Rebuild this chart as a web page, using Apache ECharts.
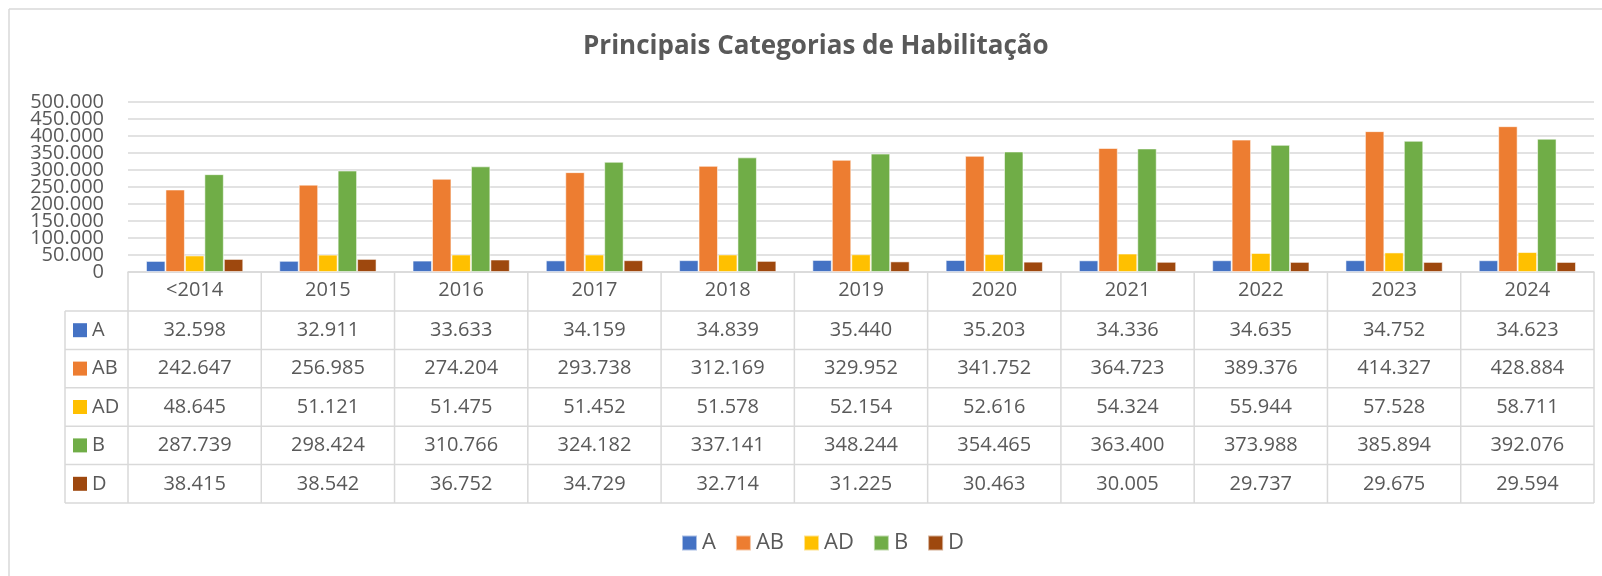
<!DOCTYPE html>
<html>
<head>
<meta charset="utf-8">
<script src="https://cdn.jsdelivr.net/npm/echarts@6/dist/echarts.min.js"></script>
<style>
  html, body { margin: 0; padding: 0; background: #fff; }
  #chart { width: 1602px; height: 576px; }
</style>
</head>
<body>
<div id="chart"></div>
<script>
const categories = ['<2014', '2015', '2016', '2017', '2018', '2019', '2020', '2021', '2022', '2023', '2024'];
const seriesNames = ['A', 'AB', 'AD', 'B', 'D'];
const colors = ['#4472C4', '#ED7D31', '#FFC000', '#70AD47', '#9E480E'];

const valuesA = [32598, 32911, 33633, 34159, 34839, 35440, 35203, 34336, 34635, 34752, 34623];
const valuesAB = [242647, 256985, 274204, 293738, 312169, 329952, 341752, 364723, 389376, 414327, 428884];
const valuesAD = [48645, 51121, 51475, 51452, 51578, 52154, 52616, 54324, 55944, 57528, 58711];
const valuesB = [287739, 298424, 310766, 324182, 337141, 348244, 354465, 363400, 373988, 385894, 392076];
const valuesD = [38415, 38542, 36752, 34729, 32714, 31225, 30463, 30005, 29737, 29675, 29594];
const allValues = [valuesA, valuesAB, valuesAD, valuesB, valuesD];

// rótulos do eixo y, divididos em dois eixos para o ECharts não esconder os que se sobrepõem
const yTicksEven = [0, 100000, 200000, 300000, 400000, 500000];
const yTicksOdd = [50000, 150000, 250000, 350000, 450000];

const FONT = '"Open Sans", "Noto Sans", sans-serif';
const TEXT = '#595959';
const LINE = '#d9d9d9';

// formato pt-BR: separador de milhar com ponto
const fmt = (v) => String(v).replace(/\B(?=(\d{3})+(?!\d))/g, '.');

const chart = echarts.init(document.getElementById('chart'));

const yLabel = (ticks) => ({
  fontFamily: FONT, fontSize: 20, color: TEXT, margin: 24,
  customValues: ticks, hideOverlap: false,
  formatter: (v) => fmt(v),
});

const option = {
  animation: false,
  backgroundColor: '#fff',
  title: {
    text: 'Principais Categorias de Habilitação',
    left: 583,
    top: 34,
    padding: 0,
    textStyle: { fontFamily: FONT, fontSize: 26, fontWeight: 'bold', color: TEXT },
  },
  legend: {
    left: 681,
    top: 532,
    padding: 0,
    icon: 'rect',
    itemWidth: 15,
    itemHeight: 15,
    itemGap: 19,
    textStyle: { fontFamily: FONT, fontSize: 22, color: TEXT },
    data: seriesNames,
  },
  grid: { left: 128, right: 8, top: 102, bottom: 304, containLabel: false },
  xAxis: {
    type: 'category',
    data: categories,
    axisLine: { lineStyle: { color: LINE, width: 1.5 } },
    axisTick: { show: false },
    axisLabel: { fontFamily: FONT, fontSize: 20, color: TEXT, margin: 8 },
  },
  yAxis: [
    {
      type: 'value',
      min: 0,
      max: 500000,
      interval: 50000,
      axisLine: { show: false },
      axisTick: { show: false },
      splitLine: { lineStyle: { color: LINE, width: 1.5 } },
      axisLabel: yLabel(yTicksEven),
    },
    {
      type: 'value',
      position: 'left',
      min: 0,
      max: 500000,
      interval: 50000,
      axisLine: { show: false },
      axisTick: { show: false },
      splitLine: { show: false },
      axisLabel: yLabel(yTicksOdd),
    },
  ],
  series: seriesNames.map((name, i) => ({
    name,
    type: 'bar',
    yAxisIndex: 0,
    data: allValues[i],
    barGap: '0%',
    barCategoryGap: '27%',
    itemStyle: { color: colors[i], borderColor: 'rgba(255,255,255,0.55)', borderWidth: 1 },
  })),
};

chart.setOption(option);

// tabela de dados abaixo do gráfico, alinhada às colunas do eixo x
const rowTop = 311;
const rowH = 38.4;
const legendColLeft = 65;
const axisY = chart.convertToPixel({ yAxisIndex: 0 }, 0);
const centers = categories.map((c, i) => chart.convertToPixel({ xAxisIndex: 0 }, i));
const colW = centers.length > 1 ? centers[1] - centers[0] : 133;
const tableLeft = centers[0] - colW / 2;
const tableRight = centers[centers.length - 1] + colW / 2;
const tableBottom = rowTop + rowH * seriesNames.length;

const graphics = [];
const lineStyle = { stroke: LINE, lineWidth: 1.5 };

// moldura externa (topo e esquerda)
graphics.push({ type: 'line', shape: { x1: 9, y1: 9, x2: 1602, y2: 9 }, style: lineStyle, silent: true });
graphics.push({ type: 'line', shape: { x1: 9, y1: 9, x2: 9, y2: 576 }, style: lineStyle, silent: true });

// linhas verticais das colunas
for (let k = 0; k <= categories.length; k++) {
  const x = tableLeft + k * colW;
  graphics.push({ type: 'line', shape: { x1: x, y1: axisY, x2: x, y2: tableBottom }, style: lineStyle, silent: true });
}
graphics.push({ type: 'line', shape: { x1: legendColLeft, y1: rowTop, x2: legendColLeft, y2: tableBottom }, style: lineStyle, silent: true });

// linhas horizontais
for (let r = 0; r <= seriesNames.length; r++) {
  const y = rowTop + r * rowH;
  graphics.push({ type: 'line', shape: { x1: legendColLeft, y1: y, x2: tableRight, y2: y }, style: lineStyle, silent: true });
}

// chave de legenda + valores
seriesNames.forEach((name, r) => {
  const cy = rowTop + r * rowH + rowH / 2;
  graphics.push({ type: 'rect', shape: { x: 73, y: cy - 7, width: 14, height: 14 }, style: { fill: colors[r] }, silent: true });
  graphics.push({
    type: 'text', x: 92, y: cy,
    style: { text: name, fontFamily: FONT, fontSize: 20, fill: TEXT, verticalAlign: 'middle', align: 'left' },
    silent: true,
  });
  allValues[r].forEach((v, i) => {
    graphics.push({
      type: 'text', x: centers[i], y: cy,
      style: { text: fmt(v), fontFamily: FONT, fontSize: 20, fill: TEXT, verticalAlign: 'middle', align: 'center' },
      silent: true,
    });
  });
});

chart.setOption({ graphic: graphics });
</script>
</body>
</html>
